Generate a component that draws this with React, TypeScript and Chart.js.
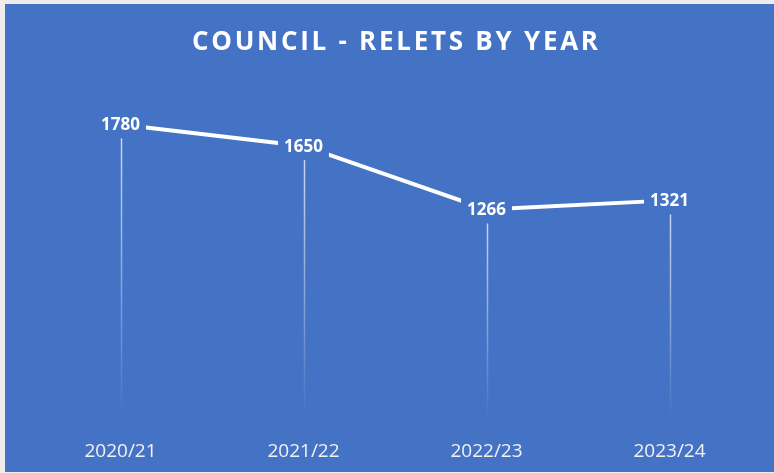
import React, { useEffect, useRef } from 'react';
import { Chart, registerables } from 'chart.js';
Chart.register(...registerables);

const categories: string[] = ['2020/21', '2021/22', '2022/23', '2023/24'];
const relets: number[] = [1780, 1650, 1266, 1321];
const titleText = 'COUNCIL - RELETS BY YEAR';
const yMin = 0;
const yMax = 2000;

const BG = '#4472C4';

export default function App() {
  const ref = useRef<HTMLCanvasElement>(null);
  useEffect(() => {
    document.body.style.margin = '0';
    const canvas = ref.current;
    if (!canvas) return;

    const titlePlugin = {
      id: 'titleDraw',
      afterDraw(chart: any) {
        const ctx = chart.ctx;
        ctx.save();
        ctx.font = 'bold 26px "Open Sans"';
        ctx.fillStyle = '#FFFFFF';
        ctx.textBaseline = 'middle';
        ctx.textAlign = 'left';
        const target = 406;
        const chars = Array.from(titleText);
        let w0 = 0;
        for (const ch of chars) w0 += ctx.measureText(ch).width;
        const sp = (target - w0) / (chars.length - 1);
        const area = chart.chartArea;
        let x = (area.left + area.right) / 2 - target / 2;
        const y = 39;
        for (const ch of chars) {
          ctx.fillText(ch, x, y);
          x += ctx.measureText(ch).width + sp;
        }
        ctx.restore();
      },
    };

    const dropPlugin = {
      id: 'dropLines',
      beforeDatasetsDraw(chart: any) {
        const ctx = chart.ctx;
        const meta = chart.getDatasetMeta(0);
        const bottom = chart.chartArea.bottom;
        ctx.save();
        meta.data.forEach((pt: any) => {
          const x = Math.round(pt.x) + 0.5;
          const g = ctx.createLinearGradient(0, pt.y, 0, bottom);
          g.addColorStop(0, 'rgba(255,255,255,0.75)');
          g.addColorStop(0.5, 'rgba(255,255,255,0.4)');
          g.addColorStop(1, 'rgba(255,255,255,0)');
          ctx.strokeStyle = g;
          ctx.lineWidth = 1.5;
          ctx.beginPath();
          ctx.moveTo(x, pt.y);
          ctx.lineTo(x, bottom);
          ctx.stroke();
        });
        ctx.restore();
      },
    };

    const labelPlugin = {
      id: 'valueLabels',
      afterDatasetsDraw(chart: any) {
        const ctx = chart.ctx;
        const meta = chart.getDatasetMeta(0);
        ctx.save();
        ctx.font = 'bold 17px "Open Sans"';
        ctx.textAlign = 'center';
        ctx.textBaseline = 'middle';
        meta.data.forEach((pt: any, i: number) => {
          const txt = String(relets[i]);
          const w = ctx.measureText(txt).width;
          ctx.fillStyle = BG;
          ctx.fillRect(pt.x - w / 2 - 6, pt.y - 14, w + 12, 28);
          ctx.fillStyle = '#FFFFFF';
          ctx.fillText(txt, pt.x, pt.y + 1);
        });
        ctx.restore();
      },
    };

    const chart = new Chart(canvas, {
      type: 'line',
      data: {
        labels: categories,
        datasets: [
          {
            data: relets,
            borderColor: '#FFFFFF',
            borderWidth: 4,
            pointRadius: 0,
            tension: 0,
            fill: false,
          },
        ],
      },
      options: {
        animation: false,
        responsive: false,
        devicePixelRatio: 1,
        layout: { padding: { left: 24, right: 13, top: 84, bottom: 0 } },
        plugins: {
          legend: { display: false },
          title: { display: false },
          tooltip: { enabled: false },
        },
        scales: {
          x: {
            offset: true,
            grid: { display: false, drawTicks: false },
            border: { display: false },
            ticks: {
              color: '#F2F2F2',
              font: { family: '"Open Sans"', size: 19 },
              padding: 21,
            },
            afterFit(scale: any) {
              scale.height = 53;
            },
          },
          y: {
            display: false,
            min: yMin,
            max: yMax,
          },
        },
      },
      plugins: [dropPlugin, labelPlugin, titlePlugin],
    });
    return () => chart.destroy();
  }, []);

  return (
    <div style={{ position: 'relative', width: 774, height: 473, background: '#EFEDEB', overflow: 'hidden' }}>
      <canvas
        ref={ref}
        width={769}
        height={468}
        style={{ position: 'absolute', left: 5, top: 4, width: 769, height: 468, background: BG }}
      />
    </div>
  );
}
